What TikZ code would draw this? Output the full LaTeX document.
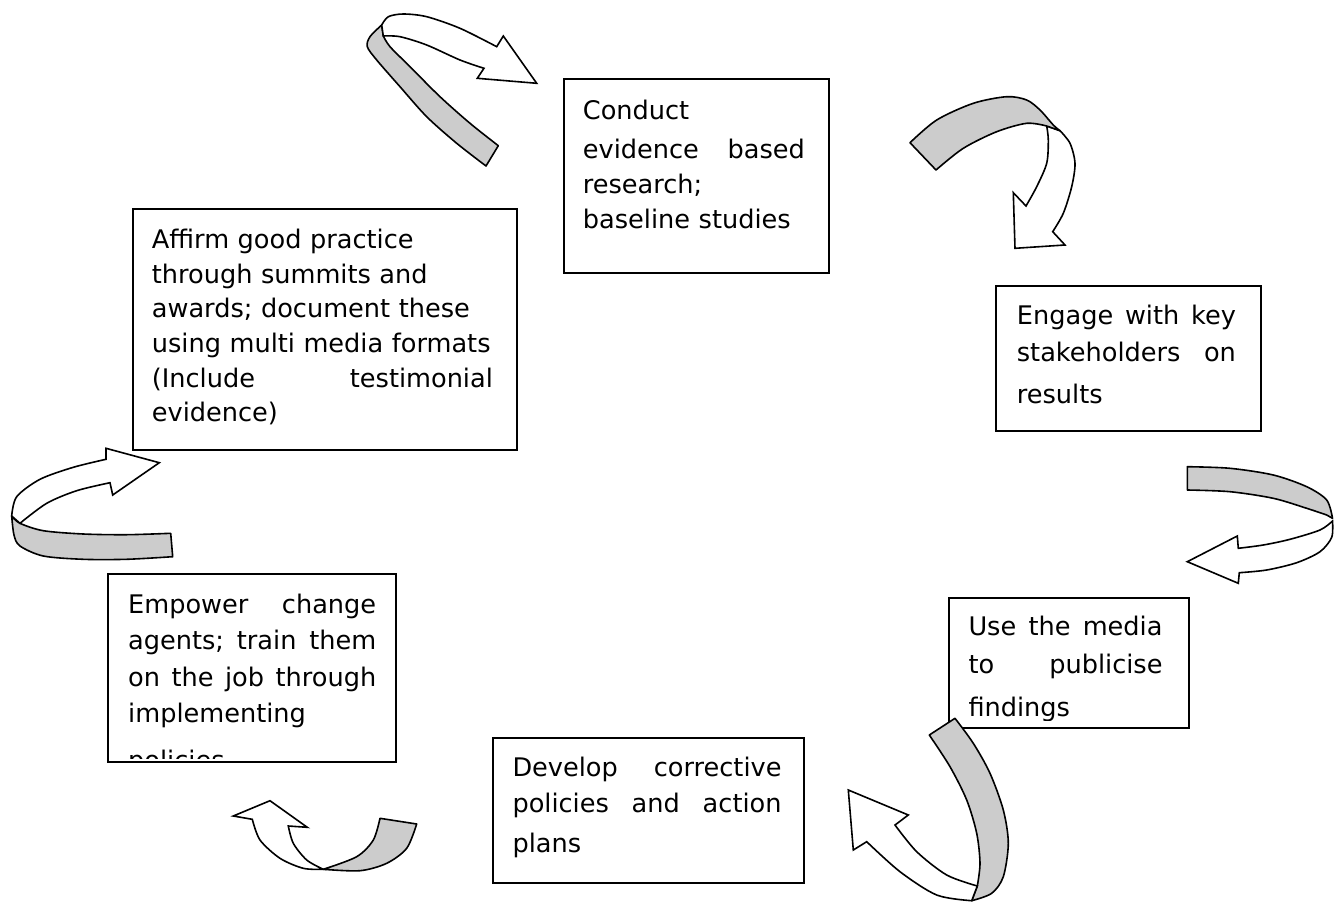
\documentclass[tikz,border=0pt]{standalone}
\usepackage{fontspec}
\setmainfont{DejaVu Sans}
\definecolor{stripgray}{RGB}{204,204,204}
\tikzset{
  box/.style={draw=black, line width=1.8pt, fill=white, inner sep=0pt, anchor=north west},
  txt/.style={inner sep=0pt, anchor=base west, align=left,
    font=\fontsize{25.6pt}{#1}\selectfont,
    execute at begin node={\setlength\parindent{0pt}}},
  txt/.default=34.7pt,
  back/.style={fill=stripgray, draw=black, line width=1.6pt, line join=round},
  front/.style={fill=white, draw=black, line width=1.6pt, line join=miter},
}
\begin{document}
\begin{tikzpicture}[x=1pt, y=-1pt]
\useasboundingbox (0,0) rectangle (1334,902);
\fill[white] (0,0) rectangle (1334,902);

% boxes
\node[box, minimum width=264.4pt, minimum height=193.4pt] (b1) at (563.3,78.3) {};
\node[box, minimum width=384pt, minimum height=241.3pt] (b2) at (131.7,207.7) {};
\node[box, minimum width=265pt, minimum height=145pt] (b3) at (995,284.7) {};
\node[box, minimum width=239.4pt, minimum height=130.6pt] (b4) at (948.3,596.7) {};
\node[box, minimum width=311pt, minimum height=145pt] (b5) at (491.7,736.7) {};
\node[box, minimum width=287.7pt, minimum height=187.7pt] (b6) at (107.3,573) {};

% texts
\node[txt=35pt, text width=222pt] (t1) at (582.7,119) {Conduct\\[4.5pt]
evidence\hfill based\\
research;\\
baseline studies};

\node[txt=34.7pt, text width=341pt] (t2) at (151.7,248.3) {Affirm good practice\\
through summits and\\
awards; document these\\
using multi media formats\\
(Include\hfill testimonial\\
evidence)};

\node[txt=36.6pt, text width=219pt] (t3) at (1016.7,324.7) {Engage\hfill with\hfill key\\
stakeholders\hfill on\\[6pt]
results};

\begin{scope}
\clip (b4.north west) rectangle ([yshift=8.3pt]b4.south east);
\node[txt=38.3pt, text width=194pt] (t4) at (968.3,635) {Use\hfill the\hfill media\\
to\hfill publicise\\[5pt]
findings};
\end{scope}

\node[txt=36pt, text width=269pt] (t5) at (512.3,776.7) {Develop\hfill corrective\\
policies\hfill and\hfill action\\[3.5pt]
plans};

\begin{scope}
\clip (b6.north west) rectangle ([yshift=4pt]b6.south east);
\node[txt=36.5pt, text width=248pt] (t6) at (128,613) {Empower\hfill change\\
agents;\hfill train\hfill them\\
on\hfill the\hfill job\hfill through\\
implementing\\[10pt]
policies};
\end{scope}

% arrow 1 (top left, pointing right)
\filldraw[back] plot[smooth] coordinates {(486,166) (456.7,143.3) (426.7,116.7) (400,86.7) (376.7,60) (367.3,46.7) (370,36.7) (381.7,25)}
  -- plot[smooth] coordinates {(383.3,36) (390,46.7) (410,66.7) (440,96.7) (470,123.3) (498.3,145.7)} -- cycle;
\filldraw[front] plot[smooth] coordinates {(381.7,25) (388.3,16.7) (403.3,14) (426.7,16.7) (460,28.3) (496.7,46.7)}
  -- (503.3,36) -- (536.7,83.3) -- (477.3,78.3) -- (484,68.3)
  -- plot[smooth] coordinates {(484,68.3) (460,60) (426.7,45) (400,36.7) (383.3,36)} -- cycle;

% arrow 2 (top right, pointing down)
\filldraw[front] plot[smooth] coordinates {(1046.7,126) (1048.3,140) (1046.7,163.3) (1036.7,186.7) (1026,206)}
  -- (1013.3,192.7) -- (1015,248.3) -- (1065,245) -- (1052.7,231.7)
  -- plot[smooth] coordinates {(1052.7,231.7) (1063.3,213.3) (1071.7,186.7) (1075,163.3) (1070,143.3) (1060,130.7)} -- cycle;
\filldraw[back] plot[smooth] coordinates {(910,142.7) (936.7,120) (973.3,103.3) (1006.7,96.7) (1026.7,100) (1040,110) (1053.3,125) (1060,130.7)}
  -- plot[smooth] coordinates {(1046.7,126) (1026.7,123.3) (996.7,131.7) (963.3,148.3) (936,170)} -- cycle;

% arrow 3 (right, pointing left)
\filldraw[back] plot[smooth] coordinates {(1187.3,466.7) (1230,468.3) (1273.3,475) (1306.7,486.7) (1326.7,500) (1332.5,518.3)}
  -- plot[smooth] coordinates {(1326.7,515) (1306.7,508.3) (1273.3,498.3) (1230,491.7) (1187.3,490)} -- cycle;
\filldraw[front] plot[smooth] coordinates {(1332.5,521) (1320,530) (1290,539.3) (1263.3,545) (1238.3,548.3)}
  -- (1237.3,536) -- (1187.3,561.7) -- (1238.3,583.3) -- (1239.3,572.7)
  -- plot[smooth] coordinates {(1239.3,572.7) (1266.7,570) (1296.7,562.7) (1320,551.7) (1331.7,537.3) (1332.5,521)} -- cycle;

% arrow 4 (bottom right, pointing up-left)
\filldraw[back] (929.3,735) -- plot[smooth] coordinates {(955,718.3) (973.3,743.3) (990,773.3) (1003.3,810) (1008.3,843.3) (1003.3,876.7) (991.7,893.3) (971.7,900.7)}
  -- plot[smooth] coordinates {(977.3,886) (980,863.3) (976.7,833.3) (966.7,800) (950,766.7) (929.3,735)} -- cycle;
\filldraw[front] plot[smooth] coordinates {(977.3,886) (946.7,875) (916.7,851.7) (895,825)}
  -- (908.3,815) -- (848.3,790) -- (853.3,850) -- (866.7,841.7)
  -- plot[smooth] coordinates {(866.7,841.7) (900,871.7) (936.7,895) (971.7,900.7)} -- cycle;

% arrow 5 (bottom left, pointing up)
\filldraw[back] (380,818.3) -- plot[smooth] coordinates {(416.7,824) (406.7,848.3) (386.7,863.3) (360,870.7) (323.3,869.3)}
  -- plot[smooth] coordinates {(323.3,869.3) (356.7,856.7) (373.3,840) (380,818.3)} -- cycle;
\filldraw[front] plot[smooth] coordinates {(323.3,869.3) (303.3,868.3) (280,858.3) (260,840) (252.3,819.3)}
  -- (233.3,816) -- (270,800.7) -- (307.3,827.3) -- (288.3,826)
  -- plot[smooth] coordinates {(288.3,826) (293.3,843.3) (306.7,860) (323.3,869.3)} -- cycle;

% arrow 6 (left, pointing right)
\filldraw[back] plot[smooth] coordinates {(170.7,533.3) (126.7,534.7) (83.3,534) (43.3,530.7) (20,523.3) (11.7,516)}
  -- plot[smooth] coordinates {(11.7,516) (14,535) (20,546) (43.3,556) (83.3,559.3) (126.7,559.3) (172.7,556.7)} -- cycle;
\filldraw[front] plot[smooth] coordinates {(11.7,516) (16.7,496.7) (40,479.3) (73.3,467.3) (106,459.3)}
  -- (106,448.3) -- (159.3,462.7) -- (112.7,495) -- (110,482.7)
  -- plot[smooth] coordinates {(110,482.7) (76.7,490.7) (46.7,503.3) (20,523.3)} -- cycle;
\end{tikzpicture}
\end{document}
